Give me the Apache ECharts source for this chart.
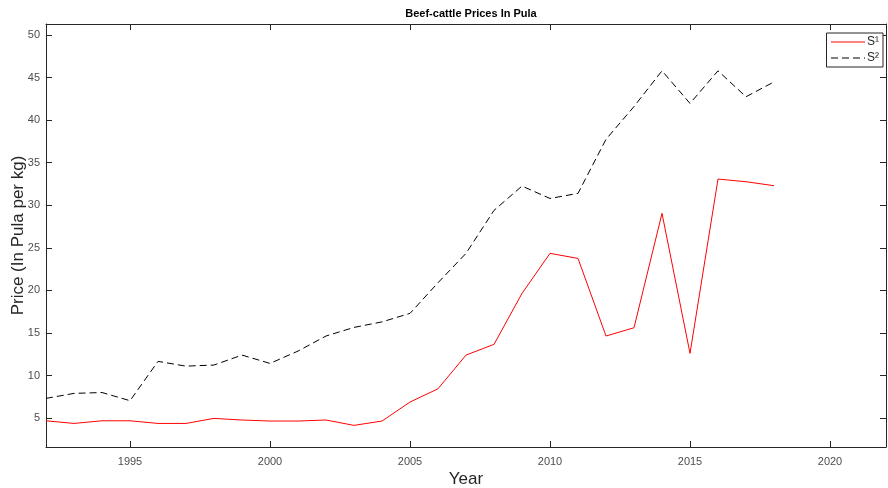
<!DOCTYPE html>
<html>
<head>
    <meta charset="utf-8">
    <title>Beef-cattle Prices In Pula</title>
    <script src="https://cdn.jsdelivr.net/npm/echarts@6/dist/echarts.min.js"></script>
    <style>
        html, body { margin: 0; padding: 0; background: #fff; }
    </style>
</head>
<body>
<div id="main" style="width: 888px;height:488px;"></div>
<script type="text/javascript">
    // values
    var years = [1992, 1993, 1994, 1995, 1996, 1997, 1998, 1999, 2000, 2001, 2002, 2003, 2004,
        2005, 2006, 2007, 2008, 2009, 2010, 2011, 2012, 2013, 2014, 2015, 2016, 2017, 2018];
    var s1 = [4.68, 4.37, 4.68, 4.68, 4.37, 4.37, 4.96, 4.77, 4.65, 4.65, 4.77, 4.14, 4.65,
        6.88, 8.44, 12.4, 13.66, 19.65, 24.35, 23.76, 14.64, 15.61, 29.05, 12.6, 33.08, 32.77, 32.3];
    var s2 = [7.31, 7.9, 8.0, 7.04, 11.66, 11.1, 11.23, 12.4, 11.42, 12.87, 14.64, 15.65, 16.3,
        17.3, 20.9, 24.35, 29.4, 32.26, 30.8, 31.4, 37.75, 41.6, 45.8, 41.97, 45.8, 42.75, 44.5];
    var xTicks = [1995, 2000, 2005, 2010, 2015, 2020];
    var yTicks = [5, 10, 15, 20, 25, 30, 35, 40, 45, 50];

    var myChart = echarts.init(document.getElementById('main'));

    function pairs(vals) {
        var out = [];
        for (var i = 0; i < years.length; i++) {
            out.push([years[i], vals[i]]);
        }
        return out;
    }

    var axisColor = '#262626';
    var labelColor = '#4d4d4d';
    var font = 'Liberation Sans, Arial, sans-serif';

    var option = {
        animation: false,
        textStyle: {fontFamily: font},
        title: {
            text: 'Beef-cattle Prices In Pula',
            left: 466, top: 3, textAlign: 'center',
            textStyle: {fontSize: 11, fontWeight: 'bold', color: '#000', fontFamily: font}
        },
        legend: {
            right: 5, top: 33,
            orient: 'vertical',
            itemWidth: 34, itemHeight: 10, itemGap: 4,
            padding: [3, 4, 3, 4],
            borderColor: '#262626', borderWidth: 1, borderRadius: 0,
            backgroundColor: '#fff',
            itemStyle: {opacity: 0},
            lineStyle: {width: 1},
            textStyle: {fontSize: 12, color: '#262626', padding: [0, 0, 0, -3]},
            data: ['S¹', 'S²']
        },
        grid: {left: 46, right: 2, top: 24, bottom: 41, containLabel: false, outerBoundsMode: 'none'},
        xAxis: [
            {
                type: 'value', min: 1992, max: 2022,
                name: 'Year', nameLocation: 'middle', nameGap: 24, nameMoveOverlap: false,
                nameTextStyle: {fontSize: 17, color: '#262626'},
                axisLine: {show: true, lineStyle: {color: axisColor, width: 1}},
                axisTick: {show: true, inside: true, length: 6, customValues: xTicks, lineStyle: {color: axisColor}},
                axisLabel: {customValues: xTicks, fontSize: 11, color: labelColor, margin: 9,
                    formatter: function (v) { return String(v); }},
                splitLine: {show: false}
            },
            {
                type: 'value', min: 1992, max: 2022, position: 'top',
                axisLine: {show: true, lineStyle: {color: axisColor, width: 1}},
                axisTick: {show: true, inside: true, length: 6, customValues: xTicks, lineStyle: {color: axisColor}},
                axisLabel: {show: false},
                splitLine: {show: false}
            }
        ],
        yAxis: [
            {
                type: 'value', min: 1.6, max: 51.3,
                name: 'Price (In Pula per kg)', nameLocation: 'middle', nameGap: 19, nameMoveOverlap: false,
                nameTextStyle: {fontSize: 17, color: '#262626'},
                axisLine: {show: true, lineStyle: {color: axisColor, width: 1}},
                axisTick: {show: true, inside: true, length: 6, customValues: yTicks, lineStyle: {color: axisColor}},
                axisLabel: {customValues: yTicks, fontSize: 11, color: labelColor, margin: 6},
                splitLine: {show: false}
            },
            {
                type: 'value', min: 1.6, max: 51.3, position: 'right',
                axisLine: {show: true, lineStyle: {color: axisColor, width: 1}},
                axisTick: {show: true, inside: true, length: 6, customValues: yTicks, lineStyle: {color: axisColor}},
                axisLabel: {show: false},
                splitLine: {show: false}
            }
        ],
        series: [
            {
                name: 'S¹', type: 'line', data: pairs(s1),
                showSymbol: false, symbol: 'none',
                itemStyle: {color: '#ff0000'},
                lineStyle: {color: '#ff0000', width: 1}
            },
            {
                name: 'S²', type: 'line', data: pairs(s2),
                showSymbol: false, symbol: 'none',
                itemStyle: {color: '#000'},
                lineStyle: {color: '#000', width: 1, type: [7, 4]}
            }
        ]
    };

    myChart.setOption(option);
</script>
</body>
</html>
